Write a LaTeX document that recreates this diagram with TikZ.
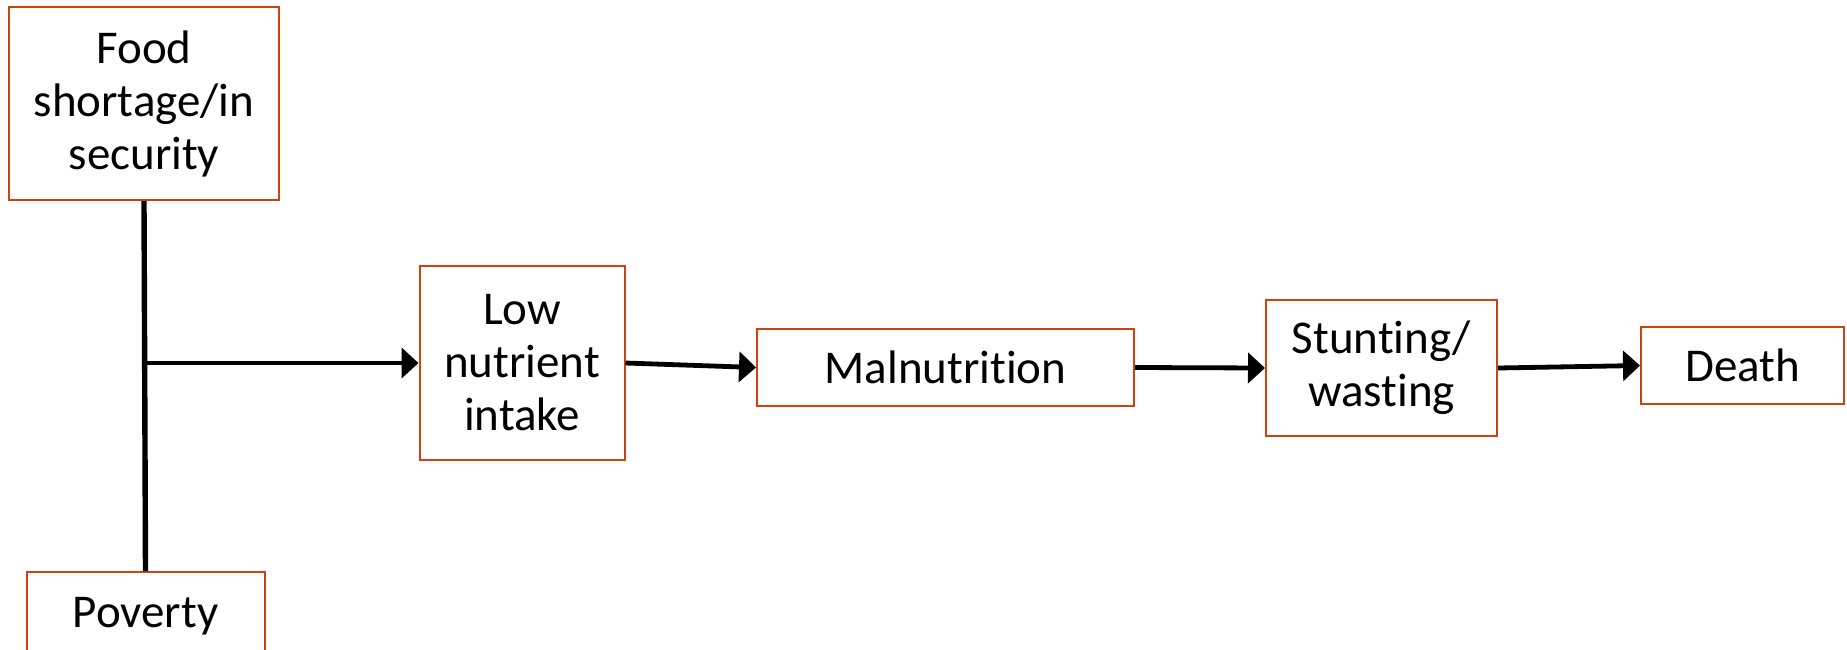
\documentclass[tikz,border=0pt]{standalone}
\usepackage{fontspec}
\setmainfont{Carlito}[Ligatures=NoCommon]
\usetikzlibrary{arrows.meta}
\definecolor{boxred}{RGB}{208,64,16}
\tikzset{
	box/.style={draw=boxred,line width=1pt,align=center,inner sep=0pt,
		font=\fontsize{23.5}{26.5}\selectfont},
	link/.style={line width=2.7pt},
	arr/.style={line width=2.4pt,-{Triangle[length=8.5pt,width=15pt]}}
}
\begin{document}
\begin{tikzpicture}[x=0.5pt,y=-0.5pt]
	\useasboundingbox (0,0) rectangle (1847,649);
	\node[box,minimum width=135pt,minimum height=96.5pt] (F) at (144,103.5) {Food\\shortage/in\\security};
	\node[box,minimum width=119pt,minimum height=44pt] (P) at (145.5,616) {Poverty};
	\node[box,minimum width=102.5pt,minimum height=97pt] (L) at (522,363) {Low\\nutrient\\intake};
	\node[box,minimum width=188.5pt,minimum height=38.5pt] (M) at (945.5,367.5) {Malnutrition};
	\node[box,minimum width=115.5pt,minimum height=68pt] (S) at (1381.5,368) {Stunting/\\wasting};
	\node[box,minimum width=101.5pt,minimum height=38.5pt] (D) at (1742.5,365.5) {Death};
	\coordinate (J) at (F.south |- L.west);
	\draw[link] (F.south) -- (P.north);
	\draw[arr] (J) -- (L.west);
	\draw[arr] (L.east) -- (M.west);
	\draw[arr] (M.east) -- (S.west);
	\draw[arr] (S.east) -- (D.west);
\end{tikzpicture}
\end{document}
